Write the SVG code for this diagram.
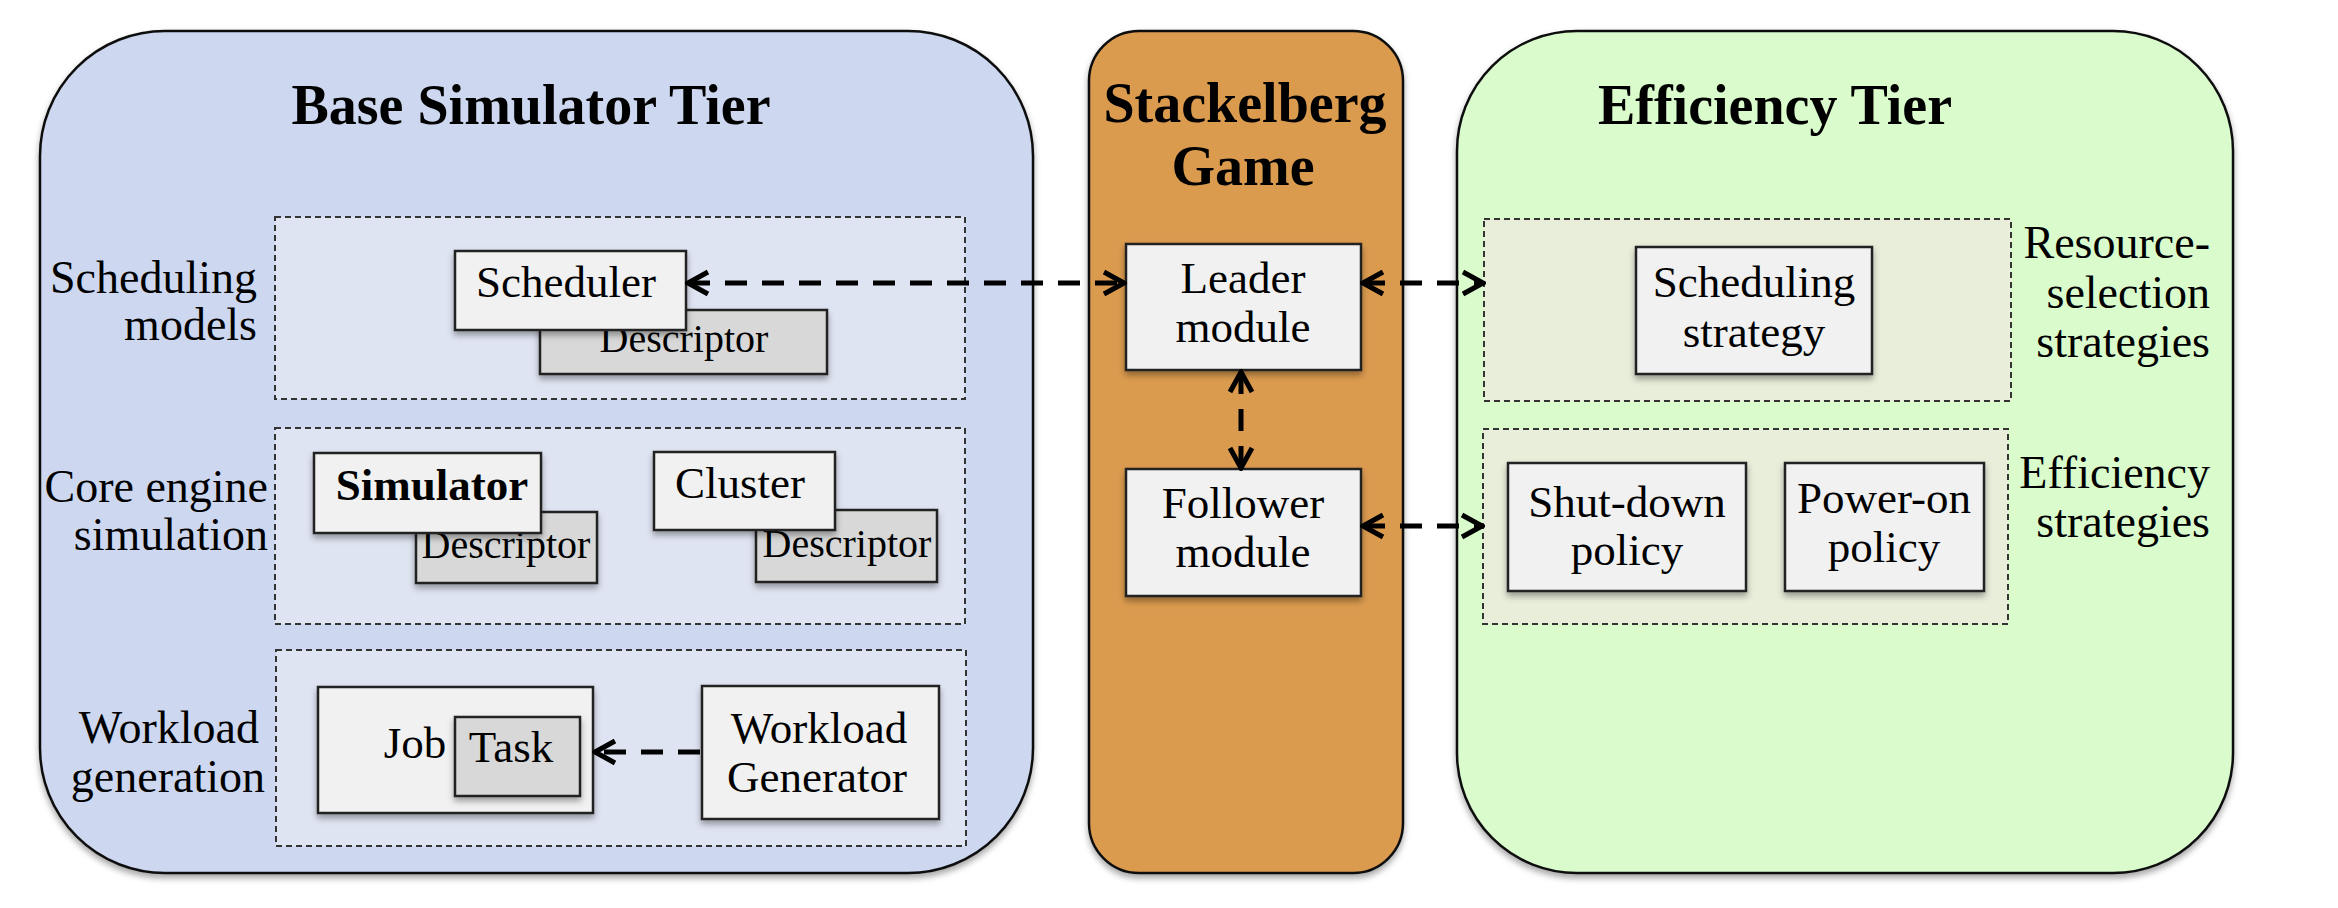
<svg xmlns="http://www.w3.org/2000/svg" width="2338" height="908" viewBox="0 0 2338 908">
<defs>
<filter id="sh" x="-10%" y="-10%" width="120%" height="130%">
<feDropShadow dx="0" dy="4" stdDeviation="3" flood-color="#000" flood-opacity="0.35"/>
</filter>
<marker id="ah" viewBox="0 0 26 28" refX="23" refY="14" markerWidth="26" markerHeight="28" markerUnits="userSpaceOnUse" orient="auto-start-reverse">
<path d="M3,3 L23,14 L3,25" fill="none" stroke="#000" stroke-width="5" stroke-linejoin="miter"/>
</marker>
</defs>
<style>
text{font-family:"Liberation Serif","Times New Roman",serif;fill:#000}
.t{font-size:56px;font-weight:bold;text-anchor:middle}
.c{font-size:45px;text-anchor:middle}
.d{font-size:40px;text-anchor:middle}
.e{font-size:46px;text-anchor:end}
.panel{stroke:#111;stroke-width:2.5}
.dash{stroke:#333;stroke-width:2;stroke-dasharray:6 4}
.box{fill:#F1F1F1;stroke:#222;stroke-width:2.5}
.sub{fill:#D8D8D8;stroke:#222;stroke-width:2.5}
.conn{fill:none;stroke:#000;stroke-width:5;stroke-dasharray:22 15}
</style>

<g id="base-tier">
<rect class="panel" x="40" y="31" width="993" height="842" rx="125" ry="125" fill="#CDD8F0" filter="url(#sh)"/>
<text class="t" x="531" y="124">Base Simulator Tier</text>
</g>

<g id="stackelberg">
<rect class="panel" x="1089" y="31" width="314" height="842" rx="50" ry="50" fill="#DB9B50" filter="url(#sh)"/>
<text class="t" x="1245" y="122">Stackelberg</text>
<text class="t" x="1243" y="185">Game</text>
</g>

<g id="efficiency-tier">
<rect class="panel" x="1457" y="31" width="776" height="842" rx="120" ry="120" fill="#DAFBCC" filter="url(#sh)"/>
<text class="t" x="1775" y="124">Efficiency Tier</text>
</g>

<g id="scheduling-models">
<rect class="dash" x="275" y="217" width="690" height="182" fill="#DFE4F2"/>
<text class="e" x="257" y="293">Scheduling</text>
<text class="e" x="257" y="340">models</text>
</g>
<g id="scheduler-descriptor">
<rect class="sub" x="540" y="310" width="287" height="64" filter="url(#sh)"/>
<text class="d" x="684" y="352">Descriptor</text>
</g>
<g id="scheduler">
<rect class="box" x="455" y="251" width="231" height="79" filter="url(#sh)"/>
<text class="c" x="566" y="297">Scheduler</text>
</g>

<g id="core-engine">
<rect class="dash" x="275" y="428" width="690" height="196" fill="#DFE4F2"/>
<text class="e" x="268" y="502">Core engine</text>
<text class="e" x="268" y="550">simulation</text>
</g>
<g id="simulator-descriptor">
<rect class="sub" x="416" y="512" width="181" height="71" filter="url(#sh)"/>
<text class="d" x="506" y="558">Descriptor</text>
</g>
<g id="simulator">
<rect class="box" x="314" y="453" width="227" height="80" filter="url(#sh)"/>
<text class="c" x="432" y="500" font-weight="bold">Simulator</text>
</g>
<g id="cluster-descriptor">
<rect class="sub" x="756" y="510" width="181" height="72" filter="url(#sh)"/>
<text class="d" x="847" y="557">Descriptor</text>
</g>
<g id="cluster">
<rect class="box" x="654" y="452" width="181" height="78" filter="url(#sh)"/>
<text class="c" x="740" y="498">Cluster</text>
</g>

<g id="workload-generation">
<rect class="dash" x="276" y="650" width="690" height="196" fill="#DFE4F2"/>
<text class="e" x="259" y="743">Workload</text>
<text class="e" x="265" y="792">generation</text>
</g>
<g id="job">
<rect class="box" x="318" y="687" width="275" height="126" filter="url(#sh)"/>
<text class="c" x="415" y="758">Job</text>
</g>
<g id="task">
<rect class="sub" x="455" y="717" width="125" height="79" filter="url(#sh)"/>
<text class="c" x="511" y="762" font-size="38">Task</text>
</g>
<g id="workload-generator">
<rect class="box" x="702" y="686" width="237" height="133" filter="url(#sh)"/>
<text class="c" x="819" y="743">Workload</text>
<text class="c" x="817" y="792">Generator</text>
</g>

<g id="leader">
<rect class="box" x="1126" y="244" width="235" height="126" filter="url(#sh)"/>
<text class="c" x="1243" y="293">Leader</text>
<text class="c" x="1243" y="342">module</text>
</g>
<g id="follower">
<rect class="box" x="1126" y="469" width="235" height="127" filter="url(#sh)"/>
<text class="c" x="1243" y="518">Follower</text>
<text class="c" x="1243" y="567">module</text>
</g>

<g id="resource-selection">
<rect class="dash" x="1484" y="219" width="527" height="182" fill="#E9EEDB"/>
<text class="e" x="2210" y="258">Resource-</text>
<text class="e" x="2210" y="308">selection</text>
<text class="e" x="2210" y="357">strategies</text>
</g>
<g id="scheduling-strategy">
<rect class="box" x="1636" y="247" width="236" height="127" filter="url(#sh)"/>
<text class="c" x="1754" y="297">Scheduling</text>
<text class="c" x="1754" y="347">strategy</text>
</g>

<g id="efficiency-strategies">
<rect class="dash" x="1483" y="429" width="525" height="195" fill="#E9EEDB"/>
<text class="e" x="2210" y="488">Efficiency</text>
<text class="e" x="2210" y="537">strategies</text>
</g>
<g id="shutdown">
<rect class="box" x="1508" y="463" width="238" height="128" filter="url(#sh)"/>
<text class="c" x="1627" y="517">Shut-down</text>
<text class="c" x="1627" y="565">policy</text>
</g>
<g id="poweron">
<rect class="box" x="1785" y="463" width="199" height="128" filter="url(#sh)"/>
<text class="c" x="1884" y="513">Power-on</text>
<text class="c" x="1884" y="562">policy</text>
</g>

<g id="connectors">
<line class="conn" x1="688" y1="283" x2="1124" y2="283" marker-start="url(#ah)" marker-end="url(#ah)"/>
<line class="conn" x1="1363" y1="283" x2="1483" y2="283" marker-start="url(#ah)" marker-end="url(#ah)"/>
<line class="conn" x1="1241" y1="372" x2="1241" y2="468" marker-start="url(#ah)" marker-end="url(#ah)"/>
<line class="conn" x1="1363" y1="526" x2="1482" y2="526" marker-start="url(#ah)" marker-end="url(#ah)"/>
<line class="conn" x1="700" y1="752" x2="595" y2="752" marker-end="url(#ah)"/>
</g>
</svg>
